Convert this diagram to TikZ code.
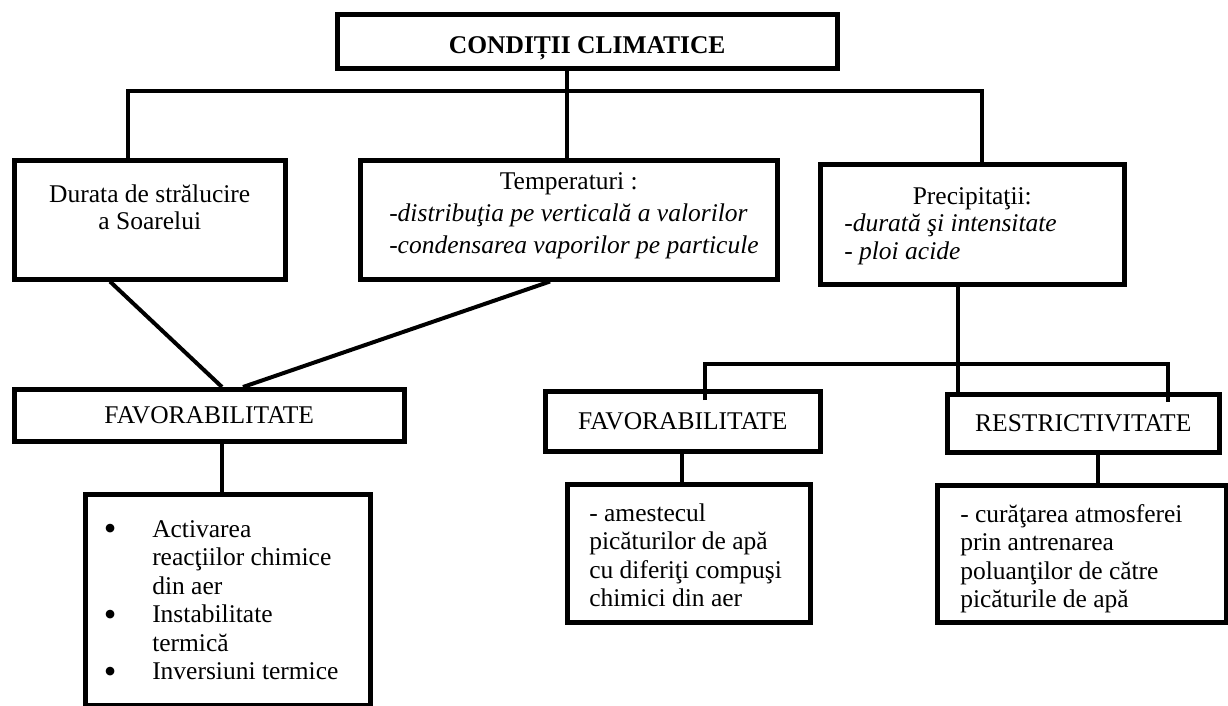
\documentclass[tikz,border=0pt]{standalone}
\usepackage{fontspec}
\setmainfont{Liberation Serif}
\newcommand{\bxc}[5]{\parbox[c][#2pt][t]{#1pt}{\fontsize{25.5pt}{#3pt}\selectfont\vspace*{#4pt}#5}}
\newcommand{\fs}{\rule{0pt}{18pt}}
\newcommand{\bul}{\leavevmode\llap{\makebox[50pt]{\raisebox{-3.5pt}{\fontsize{36pt}{36pt}\selectfont\textbullet}}\hspace{17pt}}}
\tikzset{
  box/.style={draw, line width=4.5pt, inner sep=0pt, anchor=north west},
  onebox/.style={box, text height=17pt, text depth=0pt, font=\fontsize{25.5pt}{29pt}\selectfont},
  conn/.style={line width=4pt},
}
\begin{document}
\begin{tikzpicture}[x=1pt, y=-1pt]
\useasboundingbox (0,0) rectangle (1228,705);
% boxes
\node[onebox, minimum width=500pt, minimum height=54pt, text height=24pt, font=\fontsize{25.5pt}{29pt}\selectfont\bfseries] (top) at (335,12) {CONDIȚII CLIMATICE};
\node[box] (dur) at (12,158) {\bxc{271}{119}{27}{24}{\centering\fs Durata de strălucire\\a Soarelui\par}};
\node[box] (temp) at (358,158) {\bxc{417}{119}{32}{11}{{\centering\fs Temperaturi :\par}{\raggedright\leftskip=29pt\itshape -distribuţia pe verticală a valorilor\\-condensarea vaporilor pe particule\par}}};
\node[box] (prec) at (818,162) {\bxc{304}{120}{27.5}{22}{{\centering\fs Precipitaţii:\par}{\raggedright\leftskip=24pt\itshape -durată şi intensitate\\- ploi acide\par}}};
\node[onebox, minimum width=390pt, minimum height=52pt] (fav1) at (12,387) {FAVORABILITATE};
\node[onebox, minimum width=275pt, minimum height=60pt] (fav2) at (543,389) {FAVORABILITATE};
\node[onebox, minimum width=272pt, minimum height=58pt] (restr) at (945,392) {RESTRICTIVITATE};
\node[box] (list) at (83,492) {\bxc{285}{211}{28.5}{25}{\raggedright\leftskip=67pt
\fs\bul Activarea\\reacţiilor chimice\\din aer\\\bul Instabilitate\\termică\\\bul Inversiuni termice\par}};
\node[box] (mid) at (565,482) {\bxc{243}{138}{28.5}{19}{\raggedright\leftskip=22pt\fs - amestecul\\picăturilor de apă\\cu diferiţi compuşi\\chimici din aer\par}};
\node[box] (rbox) at (935,483) {\bxc{289}{137}{28.5}{19}{\raggedright\leftskip=23pt\fs - curăţarea atmosferei\\prin antrenarea\\poluanţilor de către\\picăturile de apă\par}};
% connector coordinates
\coordinate (jl) at (128,91);
\coordinate (jm) at (567,91);
\coordinate (jr) at (982,91);
\coordinate (s1) at (110,0);
\coordinate (s2) at (222,0);
\coordinate (s3) at (243,0);
\coordinate (s4) at (550,0);
\coordinate (p) at (958,0);
\coordinate (h1) at (705,364);
\coordinate (h2) at (1168,364);
\coordinate (h1b) at (705,400);
\coordinate (h2b) at (1168,402);
\coordinate (v2) at (682,0);
\coordinate (v3) at (1098,0);
% connectors
\draw[conn] (top.south -| jm) -- (jm) -- (temp.north -| jm);
\draw[conn] (dur.north -| jl) -- (jl) -- (jr) -- (prec.north -| jr);
\draw[conn] (dur.south -| s1) -- (fav1.north -| s2);
\draw[conn] (fav1.north -| s3) -- (temp.south -| s4);
\draw[conn] (fav1.south -| s2) -- (list.north -| s2);
\draw[conn] (prec.south -| p) -- (restr.north -| p);
\draw[conn] (h1b) -- (h1) -- (h2) -- (h2b);
\draw[conn] (fav2.south -| v2) -- (mid.north -| v2);
\draw[conn] (restr.south -| v3) -- (rbox.north -| v3);
\end{tikzpicture}
\end{document}
